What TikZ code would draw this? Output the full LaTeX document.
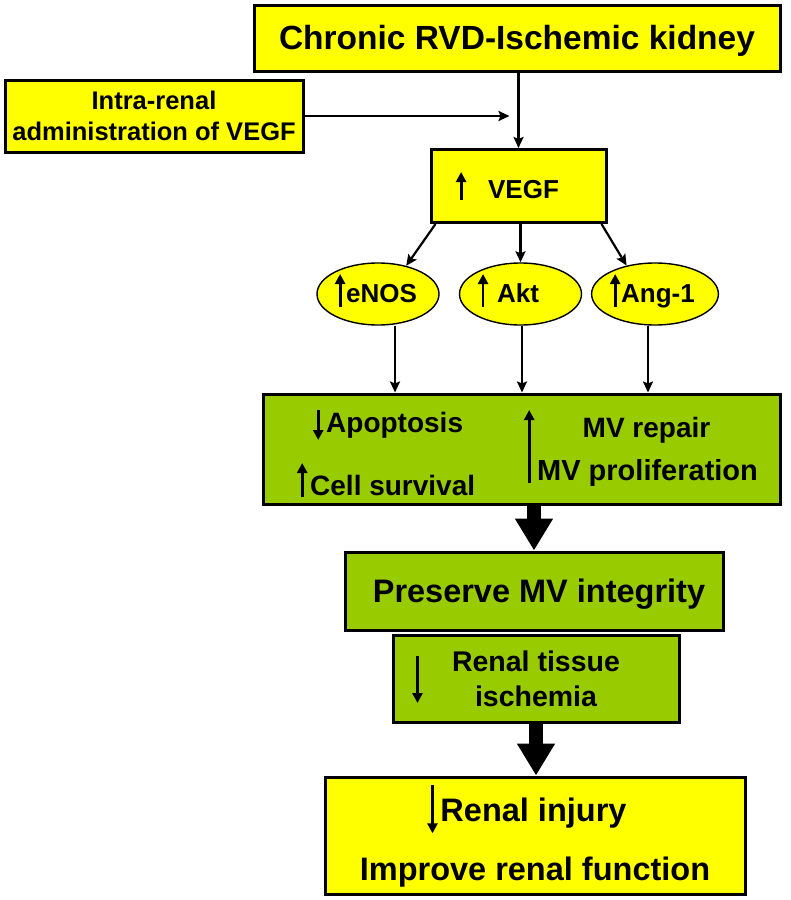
\documentclass[tikz,border=0pt]{standalone}
\usepackage{fontspec}
\setmainfont{Liberation Sans}
\usetikzlibrary{arrows.meta,shapes.geometric}
\definecolor{kidneyyellow}{RGB}{255,255,0}
\definecolor{kidneygreen}{RGB}{153,204,0}
\tikzset{markarrow/.style={-{Triangle[length=10pt,width=10pt]}, line width=2.8pt}}
\newcommand{\upmark}[2]{\tikz[baseline=0pt]\draw[markarrow] (0pt,#2) -- (0pt,#1);}
\newcommand{\downmark}[2]{\tikz[baseline=0pt]\draw[markarrow] (0pt,#1) -- (0pt,#2);}
\newcommand{\fs}[2]{\fontsize{#1}{#2}\selectfont}

\begin{document}
\begin{tikzpicture}[x=1pt, y=-1pt,
    ybox/.style={draw, line width=3pt, fill=kidneyyellow, inner sep=0pt, align=center, font=\bfseries},
    gbox/.style={draw, line width=3pt, fill=kidneygreen, inner sep=0pt, align=center, font=\bfseries},
    bubble/.style={ellipse, draw, line width=1.4pt, fill=kidneyyellow, inner sep=0pt, minimum width=122pt, minimum height=62pt, text height=26pt, text depth=10pt, font=\bfseries\fs{26}{30}},
    gtext/.style={inner sep=0pt, font=\bfseries\fs{28}{34}},
    arrow/.style={-{Stealth[length=11pt,width=10pt,inset=2pt]}, line width=2.2pt},
    fatarrow/.style={-{Triangle[length=32pt,width=36pt]}, line width=14pt}
  ]
    \useasboundingbox (0,0) rectangle (791,900);
    \node[ybox, minimum width=526pt, minimum height=66pt, text height=23pt, text depth=0pt, font=\bfseries\fs{33.5}{40}] (top) at (517,38) {Chronic RVD-Ischemic kidney};
    \node[ybox, minimum width=298pt, minimum height=72pt, font=\bfseries\fs{25.5}{31}] (intra) at (154,116) {Intra-renal\\administration of VEGF};
    \node[ybox, minimum width=175pt, minimum height=73pt, text height=28pt, text depth=4pt, font=\bfseries\fs{26}{30}] (vegf) at (518.5,186) {\upmark{26pt}{-2pt}\hspace{22pt}VEGF\kern22pt};
    \node[bubble] (enos) at (378,294) {\upmark{28pt}{-5pt}\hspace{1pt}eNOS\kern4pt};
    \node[bubble] (akt) at (520.5,294) {\upmark{28pt}{-5pt}\hspace{9pt}Akt\kern24pt};
    \node[bubble] (ang) at (655,294) {\upmark{28pt}{-5pt}\hspace{1pt}Ang-1\kern5pt};
    \node[gbox, minimum width=517pt, minimum height=110pt] (effects) at (521.5,449) {};
    \node[gtext, anchor=base west] (apop) at (313,432) {\downmark{22pt}{-8pt}\hspace{3pt}Apoptosis};
    \node[gtext, anchor=base west] (surv) at (297,495) {\upmark{32pt}{-2pt}\hspace{3pt}Cell survival};
    \node[gtext, anchor=base] (repair) at (646.5,437) {MV repair};
    \node[gtext, anchor=base west, font=\bfseries\fs{29}{34}] (prolif) at (524,480) {\upmark{70pt}{-3pt}\hspace{3pt}MV proliferation};
    \node[gbox, minimum width=378pt, minimum height=78pt, text height=23pt, text depth=0pt, font=\bfseries\fs{32.5}{39}] (preserve) at (534,591) {\hspace{10pt}Preserve MV integrity};
    \node[gbox, minimum width=286pt, minimum height=87pt, font=\bfseries\fs{28.5}{35}] (tissue) at (536,678.5) {Renal tissue\\ischemia};
    \node[ybox, minimum width=420pt, minimum height=117pt, font=\bfseries\fs{32.5}{59}] (result) at (535,835.5) {\downmark{36pt}{-12pt}\hspace{3pt}Renal injury\kern16pt\\Improve renal function};
    \coordinate (meet) at (vegf.north |- intra.east);
    \draw[arrow] (vegf.north |- top.south) -- (vegf.north);
    \draw[arrow] (intra) -- ([xshift=-9pt]meet);
    \draw[arrow] ([xshift=6pt]vegf.south west) -- (enos.45);
    \draw[arrow] (akt.north |- vegf.south) -- (akt);
    \draw[arrow] ([xshift=-6pt]vegf.south east) -- (ang.135);
    \draw[arrow] ([xshift=17pt]enos.south) -- ([xshift=17pt]enos.south |- effects.north);
    \draw[arrow] ([xshift=1.5pt]akt.south) -- ([xshift=1.5pt]akt.south |- effects.north);
    \draw[arrow] ([xshift=-7pt]ang.south) -- ([xshift=-7pt]ang.south |- effects.north);
    \draw[fatarrow] (preserve.north |- effects.south) -- (preserve.north);
    \draw[markarrow] ([shift={(-118.5,-22.5)}]tissue.center) -- ([shift={(-118.5,24.5)}]tissue.center);
    \draw[fatarrow] (tissue.south) -- (tissue.south |- result.north);
  \end{tikzpicture}
\end{document}
